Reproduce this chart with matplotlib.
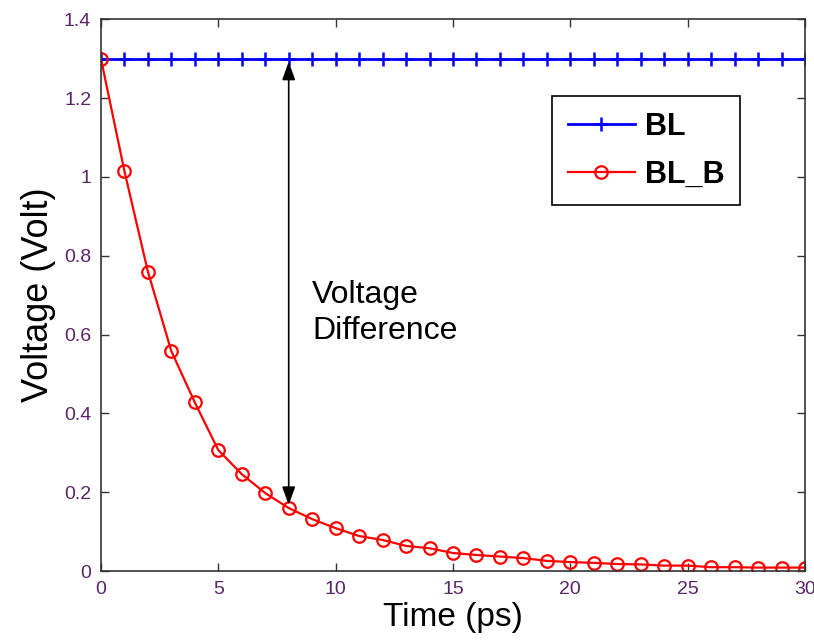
import matplotlib
matplotlib.use("Agg")
import matplotlib.pyplot as plt

# data
time_ps = list(range(0, 31))
bl = [1.3] * 31
bl_b = [1.30, 1.015, 0.76, 0.558, 0.428, 0.307, 0.246, 0.198, 0.160, 0.132,
        0.109, 0.089, 0.079, 0.064, 0.058, 0.046, 0.041, 0.037, 0.033, 0.026,
        0.023, 0.021, 0.018, 0.017, 0.014, 0.014, 0.010, 0.010, 0.009, 0.009,
        0.009]
y_ticks = [0, 0.2, 0.4, 0.6, 0.8, 1.0, 1.2, 1.4]
y_tick_labels = ["0", "0.2", "0.4", "0.6", "0.8", "1", "1.2", "1.4"]
x_ticks = [0, 5, 10, 15, 20, 25, 30]

plt.rcParams["font.family"] = ["Liberation Sans", "DejaVu Sans"]

fig = plt.figure(figsize=(8.14, 6.41), dpi=100)
ax = fig.add_axes([0.124, 0.109, 0.865, 0.861])

ax.plot(time_ps, bl, color="blue", linewidth=2, marker="+",
        markersize=10, markeredgewidth=1.8, label="BL")
ax.plot(time_ps, bl_b, color="red", linewidth=1.6, marker="o",
        markersize=9, markerfacecolor="none", markeredgewidth=1.6,
        label="BL_B")

ax.annotate("", xy=(8, 0.168), xytext=(8, 1.292),
            arrowprops=dict(arrowstyle="<|-|>,head_length=1.1,head_width=0.4",
                            color="black", linewidth=1.2,
                            shrinkA=0, shrinkB=0))
ax.text(9.0, 0.655, "Voltage\nDifference", fontsize=23, ha="left",
        va="center", linespacing=1.25)

ax.set_xlim(0, 30)
ax.set_ylim(0, 1.4)
ax.set_xticks(x_ticks)
ax.set_yticks(y_ticks)
ax.set_yticklabels(y_tick_labels)
ax.tick_params(direction="in", top=True, right=True, length=6,
               width=1, color="#333333", labelsize=14, labelcolor="#5a2468",
               pad=7)
for sp in ax.spines.values():
    sp.set_color("#333333")
    sp.set_linewidth(1.2)

ax.set_xlabel("Time (ps)", fontsize=24, labelpad=3)
ax.set_ylabel("Voltage (Volt)", fontsize=26, labelpad=6)

leg = ax.legend(loc="upper left", bbox_to_anchor=(0.641, 0.860),
                borderaxespad=0, fancybox=False, edgecolor="black",
                framealpha=1, handlelength=2.2, handletextpad=0.35,
                borderpad=0.5, labelspacing=0.6,
                prop={"size": 22, "weight": "bold"})
leg.get_frame().set_linewidth(1.2)

fig.savefig("out.png", dpi=100)
